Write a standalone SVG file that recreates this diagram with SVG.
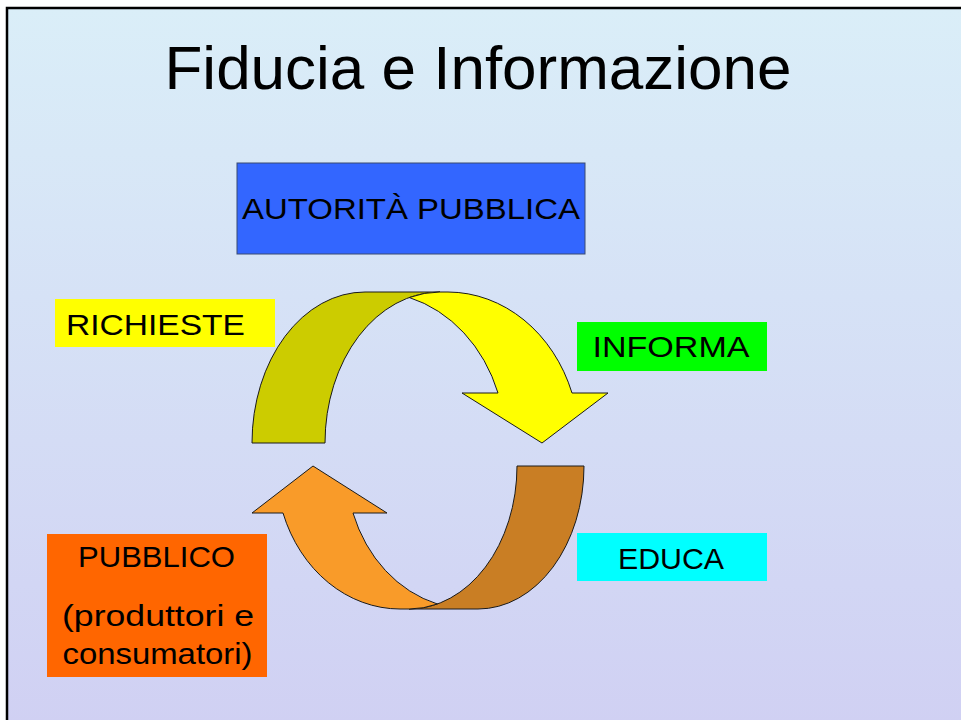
<svg xmlns="http://www.w3.org/2000/svg" width="961" height="720" viewBox="0 0 961 720">
<defs>
<linearGradient id="bg" x1="0" y1="0" x2="0" y2="1">
<stop offset="0" stop-color="#DAEEF8"/>
<stop offset="1" stop-color="#D0D0F3"/>
</linearGradient>
</defs>
<style>
text{font-family:"Liberation Sans","DejaVu Sans",sans-serif;fill:#000;}
.lbl{font-size:30px;text-anchor:middle;}
.arr{stroke:#1a1a1a;stroke-width:1;stroke-linejoin:miter;}
</style>
<rect x="0" y="0" width="961" height="720" fill="#FFFFFF"/>
<rect x="7" y="8" width="960" height="720" fill="url(#bg)" stroke="#000" stroke-width="2.5"/>
<g id="title">
<text x="478" y="89" font-size="62" text-anchor="middle" textLength="627" lengthAdjust="spacingAndGlyphs">Fiducia e Informazione</text>
</g>
<g id="autorita-pubblica">
<rect x="237" y="163" width="348" height="91" fill="#3366FF" stroke="#3A4A70" stroke-width="1"/>
<text class="lbl" x="411" y="219" textLength="338" lengthAdjust="spacingAndGlyphs">AUTORITÀ PUBBLICA</text>
</g>
<g id="richieste">
<rect x="55" y="299" width="220" height="48" fill="#FFFF00"/>
<text class="lbl" x="155.5" y="335" textLength="179" lengthAdjust="spacingAndGlyphs">RICHIESTE</text>
</g>
<g id="informa">
<rect x="577" y="322" width="190" height="49" fill="#00FF00"/>
<text class="lbl" x="671" y="357" textLength="157" lengthAdjust="spacingAndGlyphs">INFORMA</text>
</g>
<g id="educa">
<rect x="577" y="533" width="190" height="48" fill="#00FFFF"/>
<text class="lbl" x="671" y="569" textLength="106" lengthAdjust="spacingAndGlyphs">EDUCA</text>
</g>
<g id="pubblico">
<rect x="47" y="534" width="220" height="143" fill="#FF6600"/>
<text class="lbl" x="156.5" y="567" textLength="157" lengthAdjust="spacingAndGlyphs">PUBBLICO</text>
<text class="lbl" x="158" y="626" textLength="192" lengthAdjust="spacingAndGlyphs">(produttori e</text>
<text class="lbl" x="157.5" y="664" textLength="190" lengthAdjust="spacingAndGlyphs">consumatori)</text>
</g>
<g id="connectors">
<path class="arr" fill="#CCCC00" d="M252,443 A113,151 0 0 1 365,292 L440,292 A115,151 0 0 0 325,443 Z"/>
<path class="arr" fill="#FFFF00" d="M440,292 L448,292 A132,151 0 0 1 572,393 L608,393 L542,443 L462,393 L498,393 A132,151 0 0 0 409.3,297.5 A115,151 0 0 1 440,292 Z"/>
<path class="arr" fill="#C97E24" d="M584,466 A106,143 0 0 1 478,609 L409,609 A108,143 0 0 0 517,466 Z"/>
<path class="arr" fill="#F99B29" d="M409,609 L400,609 A124,143 0 0 1 283,513 L252,513 L313,466 L387,513 L353,513 A124,143 0 0 0 437.4,604 A108,143 0 0 1 409,609 Z"/>
</g>
</svg>
